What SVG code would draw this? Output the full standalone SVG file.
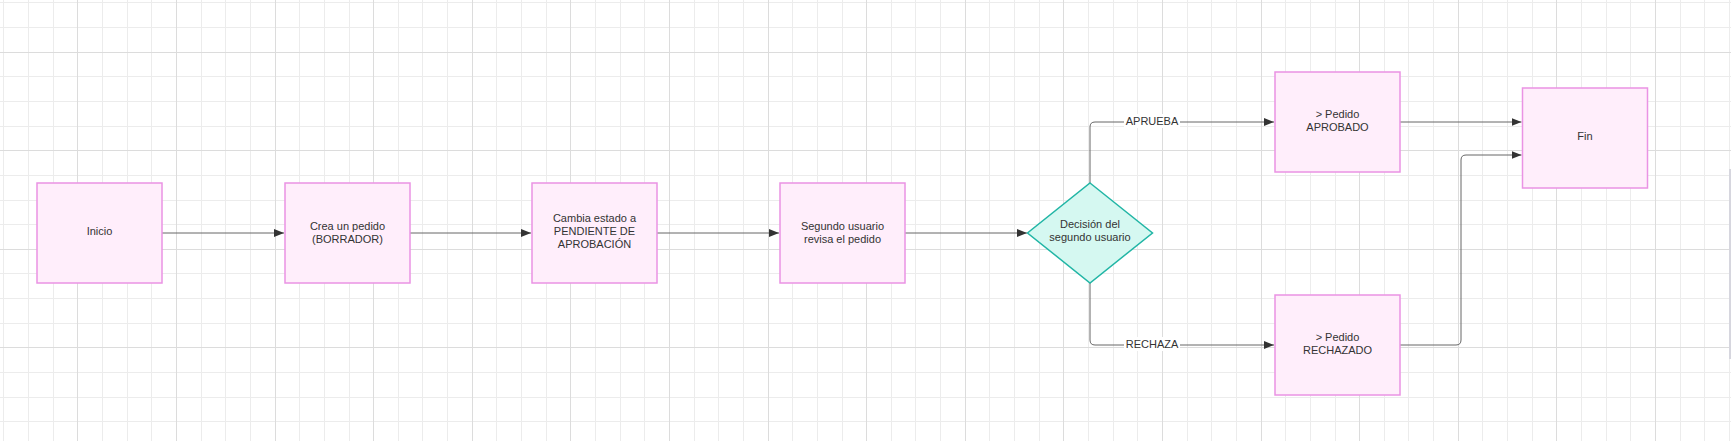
<svg xmlns="http://www.w3.org/2000/svg" width="1731" height="441" viewBox="0 0 1731 441">
<style>
.minor{stroke:#ececec;stroke-width:1;fill:none;shape-rendering:crispEdges}
.major{stroke:#dcdcdc;stroke-width:1;fill:none;shape-rendering:crispEdges}
.box{fill:#ffeefb;stroke:#ea93e4;stroke-width:1.5}
.dia{fill:#d5f8f1;stroke:#22b6a6;stroke-width:1.5}
.t{font-family:"Liberation Sans",Arial,sans-serif;font-size:11px;fill:#333;text-anchor:middle}
.c{fill:none;stroke:#666;stroke-width:1}
.lbl{fill:#fff}
</style>
<defs>
<marker id="ah" markerWidth="10" markerHeight="8" refX="10" refY="4" orient="auto" markerUnits="userSpaceOnUse">
<path d="M0,0 L10,4 L0,8 z" fill="#333"/>
</marker>
</defs>
<rect width="1731" height="441" fill="#fff"/>
<g id="grid">
<path class="minor" d="M3.5 0V441M28.5 0V441M53 0V441M102.5 0V441M127 0V441M151.5 0V441M201 0V441M225.5 0V441M250 0V441M299.5 0V441M324 0V441M349 0V441M398 0V441M422.5 0V441M447.5 0V441M496.5 0V441M521.5 0V441M546 0V441M595 0V441M620 0V441M644.5 0V441M694 0V441M718.5 0V441M743 0V441M792.5 0V441M817 0V441M842 0V441M891 0V441M915.5 0V441M940.5 0V441M989.5 0V441M1014.5 0V441M1039 0V441M1088 0V441M1113 0V441M1137.5 0V441M1187 0V441M1211.5 0V441M1236 0V441M1285.5 0V441M1310 0V441M1335 0V441M1384 0V441M1408.5 0V441M1433.5 0V441M1482.5 0V441M1507.5 0V441M1532 0V441M1581 0V441M1606 0V441M1630.5 0V441M1680 0V441M1704.5 0V441M1729 0V441M0 2.5H1731M0 27.5H1731M0 76.5H1731M0 101H1731M0 126H1731M0 175H1731M0 200H1731M0 224.5H1731M0 273.5H1731M0 298.5H1731M0 323H1731M0 372H1731M0 397H1731M0 421.5H1731"/>
<path class="major" d="M77.5 0V441M176.5 0V441M275 0V441M373.5 0V441M472 0V441M570.5 0V441M669 0V441M768 0V441M866.5 0V441M965 0V441M1063.5 0V441M1162 0V441M1261 0V441M1359.5 0V441M1458 0V441M1556.5 0V441M1655 0V441M0 52H1731M0 150.5H1731M0 249H1731M0 347.5H1731"/>
</g>
<g id="connectors">
<path class="c" d="M162 233H284" marker-end="url(#ah)"/>
<path class="c" d="M410 233H531" marker-end="url(#ah)"/>
<path class="c" d="M657 233H779" marker-end="url(#ah)"/>
<path class="c" d="M905 233H1027" marker-end="url(#ah)"/>
<path class="c" d="M1090 183V127Q1090 122 1095 122H1274" marker-end="url(#ah)"/>
<path class="c" d="M1090 283V340Q1090 345 1095 345H1274" marker-end="url(#ah)"/>
<path class="c" d="M1400 122H1521.5" marker-end="url(#ah)"/>
<path class="c" d="M1400 345H1456Q1461 345 1461 340V160Q1461 155 1466 155H1521.5" marker-end="url(#ah)"/>
<rect class="lbl" x="1124" y="114" width="56" height="14"/>
<text class="t" x="1152" y="125">APRUEBA</text>
<rect class="lbl" x="1124" y="337" width="56" height="14"/>
<text class="t" x="1152" y="348">RECHAZA</text>
</g>
<g id="inicio">
<rect class="box" x="37" y="183" width="125" height="100"/>
<text class="t" x="99.5" y="234.5">Inicio</text>
</g>
<g id="crea">
<rect class="box" x="285" y="183" width="125" height="100"/>
<text class="t" x="347.5" y="229.5">Crea un pedido</text>
<text class="t" x="347.5" y="243">(BORRADOR)</text>
</g>
<g id="cambia">
<rect class="box" x="532" y="183" width="125" height="100"/>
<text class="t" x="594.5" y="221.5">Cambia estado a</text>
<text class="t" x="594.5" y="234.8">PENDIENTE DE</text>
<text class="t" x="594.5" y="248">APROBACIÓN</text>
</g>
<g id="segundo">
<rect class="box" x="780" y="183" width="125" height="100"/>
<text class="t" x="842.5" y="229.5">Segundo usuario</text>
<text class="t" x="842.5" y="243">revisa el pedido</text>
</g>
<g id="decision">
<polygon class="dia" points="1090,183 1152.5,233 1090,283 1027.5,233"/>
<text class="t" x="1090" y="228">Decisión del</text>
<text class="t" x="1090" y="241.3">segundo usuario</text>
</g>
<g id="aprobado">
<rect class="box" x="1275" y="72" width="125" height="100"/>
<text class="t" x="1337.5" y="118">&gt; Pedido</text>
<text class="t" x="1337.5" y="131">APROBADO</text>
</g>
<g id="rechazado">
<rect class="box" x="1275" y="295" width="125" height="100"/>
<text class="t" x="1337.5" y="341">&gt; Pedido</text>
<text class="t" x="1337.5" y="354">RECHAZADO</text>
</g>
<g id="fin">
<rect class="box" x="1522.5" y="88" width="125" height="100"/>
<text class="t" x="1585" y="140">Fin</text>
</g>
<rect x="1729" y="169" width="2" height="190" fill="#d6d6de"/>
</svg>
